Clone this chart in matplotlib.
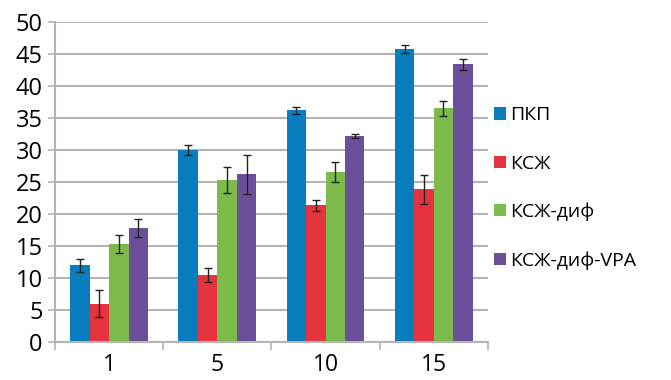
import matplotlib
matplotlib.use("Agg")
import matplotlib.pyplot as plt
import numpy as np

plt.rcParams['font.family'] = ['Open Sans', 'DejaVu Sans']

categories = ["1", "5", "10", "15"]
series_names = ["ПКП", "КСЖ", "КСЖ-диф", "КСЖ-диф-VPA"]
pkp = [12.0, 30.0, 36.25, 45.8]
pkp_err = [1.0, 0.8, 0.55, 0.65]
ksg = [6.0, 10.4, 21.35, 23.85]
ksg_err = [2.1, 1.1, 0.9, 2.3]
ksg_dif = [15.3, 25.3, 26.6, 36.5]
ksg_dif_err = [1.4, 2.0, 1.6, 1.15]
ksg_dif_vpa = [17.8, 26.2, 32.2, 43.4]
ksg_dif_vpa_err = [1.4, 3.1, 0.3, 0.85]
y_ticks = [0, 5, 10, 15, 20, 25, 30, 35, 40, 45, 50]

values = [pkp, ksg, ksg_dif, ksg_dif_vpa]
errors = [pkp_err, ksg_err, ksg_dif_err, ksg_dif_vpa_err]
colors = ["#0A7DBE", "#E5323F", "#7CBA4C", "#6B4F9B"]

fig = plt.figure(figsize=(6.71, 3.80), dpi=100)
ax = fig.add_axes([0.082, 0.1, 0.645, 0.842])

x = np.arange(len(categories))
w = 0.18
handles = []
for i, (vals, errs, col, name) in enumerate(zip(values, errors, colors, series_names)):
    bars = ax.bar(x + (i - 1.5) * w, vals, width=w, color=col, label=name, zorder=2,
                  yerr=errs, error_kw=dict(ecolor="#222222", elinewidth=1.0,
                                           capsize=3, capthick=1.0, zorder=3))
    handles.append(bars)

ax.set_ylim(0, 50)
ax.set_xlim(-0.5, 3.5)
ax.set_yticks(y_ticks)
ax.set_yticklabels([str(t) for t in y_ticks])
ax.yaxis.grid(True, color="#b4b4b4", linewidth=1.5, zorder=0)
ax.set_axisbelow(True)

# category boundary ticks below the axis, labels centred on groups
ax.set_xticks(np.arange(-0.5, 4.0, 1.0))
ax.set_xticklabels([])
ax.set_xticks(x, minor=True)
ax.set_xticklabels(categories, minor=True)
ax.tick_params(axis="x", which="major", length=6, width=1.2, color="#b4b4b4", direction="out")
ax.tick_params(axis="x", which="minor", length=0, pad=8, labelsize=16.5)
ax.tick_params(axis="y", length=5, width=1.2, color="#b4b4b4", pad=4, labelsize=17)

for s in ["top", "right"]:
    ax.spines[s].set_visible(False)
for s in ["left", "bottom"]:
    ax.spines[s].set_color("#b4b4b4")
    ax.spines[s].set_linewidth(1.5)

fig.legend(handles=handles, labels=series_names, loc="center left",
           bbox_to_anchor=(0.725, 0.505), frameon=False, fontsize=14,
           handlelength=0.6, handleheight=0.6, handletextpad=0.2,
           labelspacing=1.55, borderaxespad=0)

fig.savefig("out.png", dpi=100)
